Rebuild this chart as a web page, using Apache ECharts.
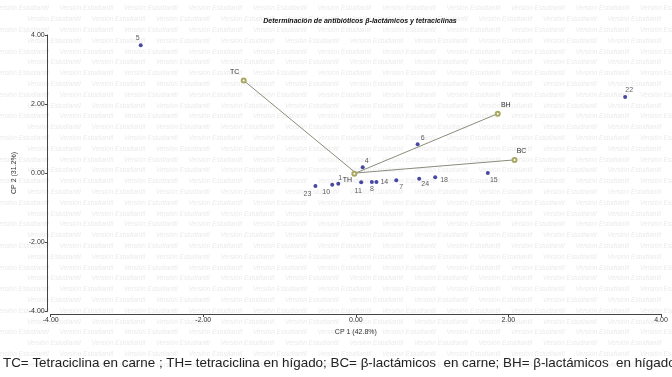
<!DOCTYPE html>
<html><head><meta charset="utf-8">
<script src="https://cdn.jsdelivr.net/npm/echarts@6/dist/echarts.min.js"></script>
<style>html,body{margin:0;padding:0;background:#fff}#c{width:672px;height:377px}</style>
</head><body><div id="c"></div>
<script>
// Observations (samples)
const obsNames = ['5','22','6','4','15','23','10','1','11','8','14','7','24','18'];
const obsX = [-2.82, 3.53, 0.81, 0.09, 1.73, -0.53, -0.31, -0.23, 0.07, 0.21, 0.27, 0.53, 0.83, 1.04];
const obsY = [3.70, 2.20, 0.83, 0.17, 0.00, -0.38, -0.34, -0.31, -0.27, -0.26, -0.26, -0.21, -0.17, -0.12];
// Variable vectors
const varNames = ['TC','TH','BH','BC'];
const varX = [-1.47, -0.02, 1.86, 2.08];
const varY = [2.68, -0.02, 1.72, 0.38];
// Axis ticks
const tickVals = [-4, -2, 0, 2, 4];
const titleText = 'Determinación de antibióticos β-lactámicos y tetraciclinas';
const xName = 'CP 1 (42.8%)';
const yName = 'CP 2 (31.2%)';
const caption = 'TC= Tetraciclina en carne ; TH= tetraciclina en hígado; BC= β-lactámicos  en carne; BH= β-lactámicos  en hígado';
const watermark = 'Versión Estudiantil';

// label placement (style only)
const obsLabelPos = {
  '5':['top',[-3,0]], '22':['top',[4,0]], '6':['top',[5,1]], '4':['top',[4,1]],
  '15':['bottom',[6,0]], '23':['bottom',[-8,0]], '10':['bottom',[-6,0]], '1':['top',[2,2]],
  '11':['bottom',[-3,1]], '8':['bottom',[0,0]], '14':['right',[0,0]], '7':['bottom',[5,-1]],
  '24':['bottom',[6,-2]], '18':['right',[1,3]]
};
const varLabelPos = {'TC':['top',[-9,0]], 'TH':['inside',[-7,6]], 'BH':['top',[8,0]], 'BC':['top',[7,0]]};

const chart = echarts.init(document.getElementById('c'));
const labelFont = {fontSize: 7, color: '#333', fontFamily: 'Liberation Sans, Arial, sans-serif'};

const obsData = obsNames.map((n,i)=>({
  value:[obsX[i], obsY[i]], name:n,
  label:{show:true, formatter:n, position:obsLabelPos[n][0], offset:obsLabelPos[n][1], distance:2, ...labelFont}
}));

const vecSeries = varNames.map((n,i)=>({
  type:'line', silent:true, animation:false,
  data:[
    {value:[0,0], symbol:'none'},
    {value:[varX[i], varY[i]], symbol:'emptyCircle', symbolSize:4,
     label:{show:true, formatter:n, position:varLabelPos[n][0], offset:varLabelPos[n][1], distance:2, ...labelFont}}
  ],
  lineStyle:{color:'#8c8c7c', width:1},
  itemStyle:{color:'#a8a860', borderColor:'#a8a860', borderWidth:1},
  z:2
}));

// watermark graphic
const wm = [];
for (let r = 0; r < 34; r++) {
  const y = 5 + r * 10.8;
  const off = (r % 2 === 0) ? -5 : 27;
  for (let c = 0; c < 12; c++) {
    wm.push({type:'text', silent:true, z:-10, x: off + c*64.5, y: y,
      style:{text: watermark, fontSize:6.5, fontStyle:'italic', fill:'#ebebeb', fontFamily:'Liberation Sans, Arial, sans-serif'}});
  }
}
wm.push({type:'text', left:3, top:357, z:10,
  style:{text: caption, fontSize:13.4, fill:'#222', fontFamily:'Liberation Sans, Arial, sans-serif'}});

const axisCommon = {
  type:'value', min:-4, max:4, interval:2,
  splitLine:{show:false},
  axisLine:{show:true, onZero:false, lineStyle:{color:'#444', width:1}},
  axisTick:{show:true, length:3, lineStyle:{color:'#444'}},
  axisLabel:{formatter:(v)=>v.toFixed(2), fontSize:7, color:'#333', margin:3, fontFamily:'Liberation Sans, Arial, sans-serif'},
  nameLocation:'middle',
  nameTextStyle:{fontSize:7, color:'#333', fontFamily:'Liberation Sans, Arial, sans-serif'}
};

chart.setOption({
  animation:false,
  backgroundColor:'#fff',
  title:{text:titleText, left:355, top:13, textAlign:'center',
    textStyle:{fontSize:7, fontWeight:'bold', fontStyle:'italic', color:'#111', fontFamily:'Liberation Sans, Arial, sans-serif'}},
  grid:{left:50.7, right:11, top:35, bottom:66},
  xAxis:{...axisCommon, name:xName, nameGap:13, offset:3},
  yAxis:{...axisCommon, name:yName, nameGap:22, offset:3},
  graphic: wm,
  series:[
    ...vecSeries,
    {type:'scatter', data:obsData, symbolSize:4, itemStyle:{color:'#1a1a8c'}, z:3}
  ]
});
</script></body></html>
